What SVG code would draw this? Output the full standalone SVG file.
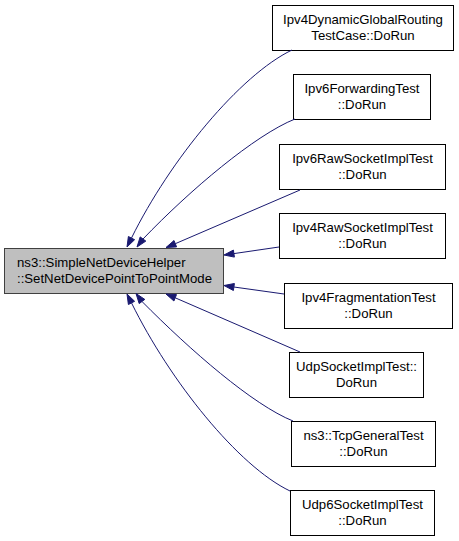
<svg xmlns="http://www.w3.org/2000/svg" width="459" height="541" viewBox="0 0 459 541">
<style>
text{font-family:"Liberation Sans",Arial,Helvetica,sans-serif;font-size:13.2px;fill:#000}
.n rect{fill:#fff;stroke:#000;stroke-width:1}
.c{text-anchor:middle}
#main rect{fill:#bfbfbf;stroke:#404040}
.e path{fill:none;stroke:#191970;stroke-width:1}
.e polygon{fill:#191970;stroke:#191970;stroke-width:1}
</style>
<rect width="459" height="541" fill="#fff"/>
<g id="main" class="n">
<rect x="4.5" y="248.5" width="219" height="45"/>
<text x="17" y="266.5">ns3::SimpleNetDeviceHelper</text>
<text x="17" y="282.5">::SetNetDevicePointToPointMode</text>
</g>
<g id="n1" class="n">
<rect x="272.5" y="5.5" width="181" height="45"/>
<text class="c" x="363" y="23.5">Ipv4DynamicGlobalRouting</text>
<text class="c" x="363" y="39.5">TestCase::DoRun</text>
</g>
<g id="n2" class="n">
<rect x="293.5" y="74.5" width="137" height="45"/>
<text class="c" x="362" y="92.5">Ipv6ForwardingTest</text>
<text class="c" x="362" y="108.5">::DoRun</text>
</g>
<g id="n3" class="n">
<rect x="279.5" y="144.5" width="166" height="45"/>
<text class="c" x="362.5" y="162.5">Ipv6RawSocketImplTest</text>
<text class="c" x="362.5" y="178.5">::DoRun</text>
</g>
<g id="n4" class="n">
<rect x="279.5" y="213.5" width="166" height="45"/>
<text class="c" x="362.5" y="231.5">Ipv4RawSocketImplTest</text>
<text class="c" x="362.5" y="247.5">::DoRun</text>
</g>
<g id="n5" class="n">
<rect x="284.5" y="283.5" width="168" height="45"/>
<text class="c" x="368.5" y="301.5">Ipv4FragmentationTest</text>
<text class="c" x="368.5" y="317.5">::DoRun</text>
</g>
<g id="n6" class="n">
<rect x="289.5" y="352.5" width="134" height="45"/>
<text class="c" x="356.5" y="370.5">UdpSocketImplTest::</text>
<text class="c" x="356.5" y="386.5">DoRun</text>
</g>
<g id="n7" class="n">
<rect x="291.5" y="421.5" width="144" height="45"/>
<text class="c" x="363.5" y="439.5">ns3::TcpGeneralTest</text>
<text class="c" x="363.5" y="455.5">::DoRun</text>
</g>
<g id="n8" class="n">
<rect x="290.5" y="490.5" width="144" height="45"/>
<text class="c" x="362.5" y="508.5">Udp6SocketImplTest</text>
<text class="c" x="362.5" y="524.5">::DoRun</text>
</g>
<g id="edges" class="e">
<path d="M292,50 C240,75 170,160 131.5,238"/>
<polygon points="127,247 128.4,236.5 134.6,239.7"/>
<path d="M295,119 C255,135 190,190 143,239"/>
<polygon points="137,247 140.2,236.9 145.8,241.1"/>
<path d="M300,190 L175.3,243.7"/>
<polygon points="166,247.5 174,240.5 176.6,246.9"/>
<path d="M279,247 L233.9,253.6"/>
<polygon points="224,255 233.4,250.1 234.4,257.1"/>
<path d="M284,294 L233.9,287"/>
<polygon points="224,285.5 234.4,283.5 233.4,290.5"/>
<path d="M300,352 L175.2,297.8"/>
<polygon points="166,294 176.5,294.6 173.9,301"/>
<path d="M293,421 C253,405 190,350 142,301.5"/>
<polygon points="136,293.5 144.8,299.4 139.2,303.6"/>
<path d="M290,491 C238,466 170,381 131.5,302.9"/>
<polygon points="127,294 134.6,301.3 128.4,304.5"/>
</g>
</svg>
